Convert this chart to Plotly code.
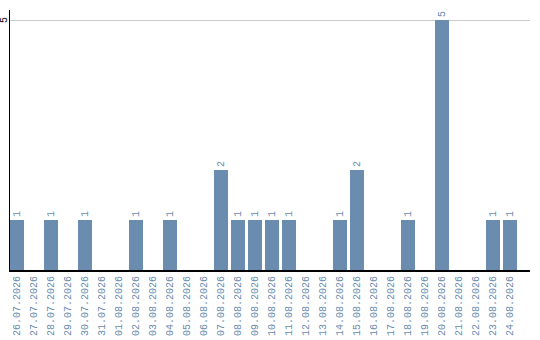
import plotly.graph_objects as go

# Daily counts
dates = [
    "26.07.2026", "27.07.2026", "28.07.2026", "29.07.2026", "30.07.2026",
    "31.07.2026", "01.08.2026", "02.08.2026", "03.08.2026", "04.08.2026",
    "05.08.2026", "06.08.2026", "07.08.2026", "08.08.2026", "09.08.2026",
    "10.08.2026", "11.08.2026", "12.08.2026", "13.08.2026", "14.08.2026",
    "15.08.2026", "16.08.2026", "17.08.2026", "18.08.2026", "19.08.2026",
    "20.08.2026", "21.08.2026", "22.08.2026", "23.08.2026", "24.08.2026",
]
counts = [1, 0, 1, 0, 1, 0, 0, 1, 0, 1,
          0, 0, 2, 1, 1, 1, 1, 0, 0, 1,
          2, 0, 0, 1, 0, 5, 0, 0, 1, 1]
y_ticks = [5]

bar_color = "#6a8cae"
label_color = "#6a8cae"
mono = "Liberation Mono, DejaVu Sans Mono, monospace"

labels = [str(c) if c else "" for c in counts]

fig = go.Figure(
    go.Bar(
        x=list(range(len(dates))),
        y=counts,
        marker=dict(color=bar_color, line=dict(width=0)),
        text=labels,
        textposition="outside",
        textangle=-90,
        textfont=dict(family=mono, size=10, color=label_color),
        cliponaxis=False,
        hoverinfo="skip",
    )
)

fig.update_layout(
    width=540,
    height=340,
    margin=dict(l=10, r=10, t=10, b=70),
    paper_bgcolor="white",
    plot_bgcolor="white",
    bargap=3 / 17,
    showlegend=False,
    font=dict(family=mono, size=10, color=label_color),
)

fig.update_xaxes(
    range=[-7 / 17, 513 / 17],
    tickmode="array",
    tickvals=list(range(len(dates))),
    ticktext=dates,
    tickangle=-90,
    tickfont=dict(family=mono, size=10, color=label_color),
    showgrid=False,
    zeroline=False,
    showline=True,
    linecolor="black",
    linewidth=2,
    ticks="",
    automargin=False,
)

# gridline at the y ticks; labels are drawn rotated beside the axis below
fig.update_yaxes(
    range=[0, 5.2],
    tickmode="array",
    tickvals=y_ticks,
    showticklabels=False,
    showgrid=True,
    gridcolor="#cccccc",
    gridwidth=1,
    zeroline=False,
    showline=True,
    linecolor="black",
    linewidth=1,
    ticks="",
    automargin=False,
)

for v in y_ticks:
    fig.add_annotation(
        x=0, xref="paper", y=v, yref="y",
        text=str(v), textangle=-90, showarrow=False,
        xanchor="center", yanchor="middle", xshift=-6,
        font=dict(family=mono, size=10, color="black"),
    )

fig.write_html("out.html")
